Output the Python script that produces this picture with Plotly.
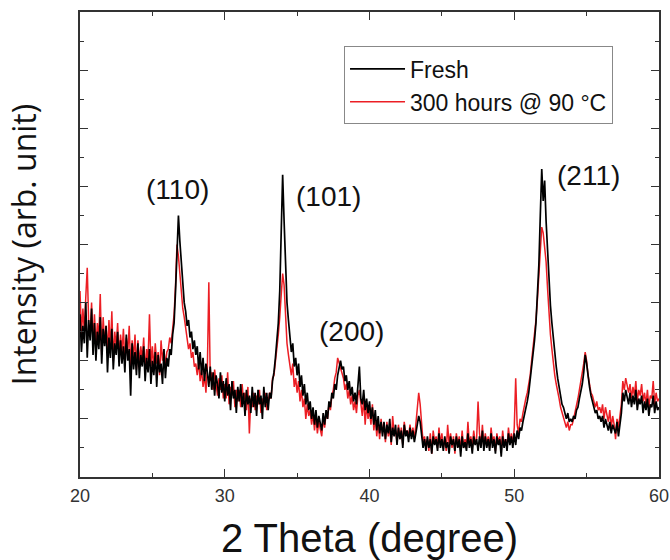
import plotly.graph_objects as go

# 2-theta grid (0.1 degree step, 20..60)
two_theta = [round(20 + 0.1 * i, 1) for i in range(401)]

fresh = [
    5.6, 4.3, 5.2, 4.6, 6.0, 4.1, 5.4, 4.7, 5.8, 4.2,   # 20
    5.3, 4.0, 5.0, 4.4, 5.5, 3.9, 5.1, 4.5, 5.2, 3.6,   # 21
    4.8, 4.1, 5.1, 3.7, 4.6, 4.2, 5.0, 3.8, 4.7, 3.9,   # 22
    4.5, 3.6, 4.9, 4.0, 4.4, 2.8, 4.6, 3.7, 4.3, 3.5,   # 23
    4.6, 3.4, 4.2, 3.8, 4.5, 3.3, 4.1, 3.6, 4.4, 3.2,   # 24
    4.0, 3.5, 4.3, 3.1, 4.2, 3.6, 3.9, 3.2, 4.4, 3.4,   # 25
    4.1, 3.8, 4.4, 4.2, 4.9, 5.3, 6.4, 7.7, 9.0, 8.1,   # 26
    7.3, 6.6, 6.0, 5.7, 5.2, 5.4, 4.8, 5.0, 4.4, 4.7,   # 27
    4.2, 4.5, 3.7, 4.3, 3.5, 4.1, 3.3, 3.9, 3.6, 3.1,   # 28
    3.8, 3.0, 3.6, 2.8, 3.5, 3.2, 2.7, 3.6, 2.9, 3.3,   # 29
    2.6, 3.4, 2.8, 3.2, 2.3, 3.3, 2.7, 3.0, 2.2, 3.1,   # 30
    2.6, 3.2, 2.4, 2.9, 2.1, 3.0, 2.5, 2.8, 2.2, 3.1,   # 31
    2.4, 2.9, 2.1, 3.0, 2.5, 2.8, 2.0, 3.1, 2.4, 2.9,   # 32
    2.3, 2.9, 2.7, 3.3, 3.6, 4.1, 4.6, 5.3, 6.4, 8.0,   # 33
    10.4, 8.8, 7.1, 6.0, 5.4, 4.8, 4.3, 4.6, 3.8, 4.1,  # 34
    3.5, 3.9, 3.1, 3.5, 2.8, 3.2, 2.5, 2.9, 2.3, 2.6,   # 35
    2.0, 2.4, 1.8, 2.3, 1.7, 2.1, 1.9, 1.6, 2.2, 1.8,   # 36
    2.3, 2.0, 2.6, 2.4, 2.9, 2.7, 3.2, 3.0, 3.5, 3.8,   # 37
    4.0, 3.7, 3.8, 3.3, 3.5, 3.0, 3.3, 2.8, 3.1, 2.6,   # 38
    2.9, 2.5, 3.1, 3.8, 2.7, 2.5, 3.0, 2.3, 2.7, 2.2,   # 39
    2.6, 2.0, 2.4, 1.8, 2.3, 1.6, 2.1, 1.5, 1.9, 1.4,   # 40
    1.9, 1.3, 1.8, 1.5, 2.0, 1.2, 1.7, 1.4, 1.8, 1.1,   # 41
    1.7, 1.3, 1.6, 1.0, 1.8, 1.4, 1.6, 1.2, 1.7, 1.3,   # 42
    1.6, 1.2, 1.5, 1.8, 2.1, 1.9, 1.4, 1.0, 1.3, 0.9,   # 43
    1.4, 1.0, 1.3, 0.8, 1.4, 1.1, 1.3, 0.9, 1.5, 1.0,   # 44
    1.3, 0.9, 1.4, 1.0, 1.2, 0.8, 1.4, 1.1, 1.3, 0.9,   # 45
    1.4, 1.0, 1.3, 0.7, 1.4, 1.0, 1.2, 0.9, 1.5, 1.0,   # 46
    1.3, 0.8, 1.4, 1.1, 1.3, 0.9, 1.4, 1.0, 1.6, 0.9,   # 47
    1.4, 1.0, 1.3, 0.9, 1.5, 1.0, 1.3, 0.8, 1.4, 1.1,   # 48
    1.3, 0.7, 1.4, 1.0, 1.3, 0.9, 1.5, 1.1, 1.4, 1.0,   # 49
    1.5, 1.1, 1.6, 1.3, 1.7, 1.6, 1.9, 2.1, 2.4, 2.6,   # 50
    2.9, 3.3, 3.7, 4.2, 4.7, 5.3, 6.2, 7.3, 9.0, 10.6,  # 51
    9.5, 10.2, 8.8, 7.8, 6.7, 5.9, 5.3, 4.7, 4.2, 3.8,  # 52
    3.4, 3.1, 2.8, 2.5, 2.4, 2.2, 2.0, 2.2, 1.9, 2.0,   # 53
    1.9, 2.1, 2.0, 2.3, 2.4, 2.7, 2.9, 3.2, 3.6, 4.2,   # 54
    3.9, 3.4, 3.1, 2.8, 2.6, 2.5, 2.2, 2.3, 2.0, 2.1,   # 55
    1.9, 2.1, 1.7, 2.0, 1.8, 1.6, 1.9, 1.5, 1.8, 1.6,   # 56
    1.5, 1.9, 1.4, 1.8, 2.2, 2.9, 2.6, 3.0, 2.7, 2.5,   # 57
    2.9, 2.4, 2.8, 2.5, 3.0, 2.3, 2.7, 2.5, 2.8, 2.2,   # 58
    2.6, 2.3, 2.7, 2.1, 2.5, 2.4, 2.8, 2.2, 2.6, 2.3,   # 59
    2.4,                                                # 60
]

aged = [
    6.4, 4.9, 5.8, 5.0, 6.2, 7.2, 5.3, 4.8, 6.0, 4.6,   # 20
    5.6, 4.5, 5.3, 4.8, 6.3, 4.2, 5.5, 4.6, 5.2, 4.3,   # 21
    5.4, 4.4, 5.7, 4.0, 5.0, 4.5, 5.3, 4.1, 4.9, 4.3,   # 22
    5.1, 3.9, 4.8, 4.3, 5.2, 3.8, 4.7, 4.1, 4.9, 3.7,   # 23
    4.7, 3.9, 4.5, 4.0, 4.8, 3.6, 4.4, 4.0, 5.6, 3.8,   # 24
    4.5, 3.7, 4.6, 3.9, 4.3, 3.5, 4.7, 4.0, 4.4, 3.8,   # 25
    4.3, 4.4, 4.8, 4.6, 5.1, 5.6, 6.6, 8.0, 7.6, 6.9,   # 26
    6.4, 5.8, 5.5, 5.1, 4.9, 4.4, 4.6, 4.1, 4.3, 3.8,   # 27
    3.9, 3.5, 4.0, 3.3, 3.7, 3.1, 3.5, 2.9, 3.8, 6.7,   # 28
    3.3, 3.6, 3.0, 3.7, 3.2, 2.8, 3.4, 3.0, 3.5, 2.7,   # 29
    3.2, 2.7, 3.6, 2.5, 3.1, 2.8, 3.3, 2.4, 3.0, 2.6,   # 30
    3.0, 2.4, 3.2, 2.6, 2.9, 2.3, 3.1, 1.5, 2.7, 2.4,   # 31
    2.9, 2.3, 2.8, 2.5, 3.0, 2.2, 2.7, 2.5, 2.9, 2.3,   # 32
    2.6, 2.9, 2.7, 3.4, 3.5, 3.9, 4.3, 4.9, 5.5, 6.2,   # 33
    7.0, 6.6, 5.5, 4.6, 4.2, 3.8, 3.5, 3.9, 3.1, 3.4,   # 34
    2.9, 3.3, 2.6, 3.0, 2.4, 2.7, 2.0, 2.5, 2.1, 2.3,   # 35
    1.8, 2.2, 1.6, 2.1, 1.5, 1.9, 1.7, 1.4, 2.0, 1.7,   # 36
    2.2, 2.0, 2.5, 2.3, 2.8, 3.0, 3.4, 3.6, 4.1, 3.9,   # 37
    3.7, 3.5, 3.4, 3.0, 3.2, 2.7, 3.0, 2.5, 2.8, 2.3,   # 38
    2.6, 2.2, 2.8, 3.0, 2.4, 2.1, 2.7, 1.8, 2.5, 2.0,   # 39
    2.3, 1.8, 2.5, 1.6, 2.1, 1.4, 1.9, 1.3, 2.0, 1.5,   # 40
    1.8, 1.2, 1.9, 1.4, 1.7, 1.1, 2.1, 1.5, 1.6, 1.2,   # 41
    1.8, 1.3, 1.7, 1.1, 1.9, 1.5, 1.6, 1.4, 1.8, 1.4,   # 42
    1.7, 1.3, 1.8, 2.4, 2.9, 2.5, 1.7, 1.2, 1.4, 1.0,   # 43
    1.3, 0.9, 1.5, 0.8, 1.6, 1.2, 1.4, 1.0, 1.7, 1.1,   # 44
    1.5, 1.0, 1.3, 0.9, 1.8, 1.1, 1.5, 1.0, 1.4, 0.8,   # 45
    1.5, 1.1, 1.4, 0.9, 1.6, 1.0, 1.3, 1.0, 1.9, 1.1,   # 46
    1.4, 1.0, 1.6, 1.2, 1.3, 2.6, 1.5, 1.1, 1.8, 1.0,   # 47
    1.5, 1.1, 1.4, 1.0, 1.7, 1.2, 1.4, 0.9, 1.5, 1.2,   # 48
    1.4, 0.9, 1.6, 1.1, 1.3, 1.0, 1.7, 1.2, 1.5, 1.1,   # 49
    1.7, 3.4, 1.8, 1.5, 2.0, 1.9, 2.2, 2.5, 2.7, 2.9,   # 50
    3.2, 3.5, 4.0, 4.4, 4.9, 5.4, 6.1, 6.9, 7.8, 8.6,   # 51
    8.4, 8.0, 7.4, 6.5, 5.6, 4.9, 4.4, 3.9, 3.5, 3.2,   # 52
    3.0, 2.7, 2.4, 2.2, 2.0, 1.8, 1.7, 1.9, 1.6, 1.8,   # 53
    1.8, 2.0, 2.2, 2.5, 2.7, 3.0, 3.3, 3.5, 3.9, 4.3,   # 54
    4.0, 3.5, 3.2, 2.9, 2.8, 2.6, 2.4, 2.6, 2.3, 2.4,   # 55
    2.2, 2.5, 2.0, 2.4, 2.1, 1.9, 2.3, 1.7, 2.1, 1.8,   # 56
    1.3, 2.0, 1.7, 2.1, 2.5, 3.3, 3.0, 3.4, 3.1, 2.9,   # 57
    3.2, 2.7, 3.1, 2.8, 3.3, 2.6, 3.0, 2.8, 3.2, 2.6,   # 58
    2.9, 2.5, 3.0, 2.4, 2.8, 2.7, 3.3, 2.5, 2.9, 2.6,   # 59
    2.7,                                                # 60
]

peak_labels = ["(110)", "(101)", "(200)", "(211)"]
peak_label_x = [26.76, 37.14, 38.73, 55.13]
peak_label_y = [9.9, 9.64, 5.0, 10.38]

series_names = ["Fresh", "300 hours @ 90 °C"]
series_colors = ["#000000", "#ec1e24"]

FONT = "Liberation Sans, Arial, sans-serif"
YFONT = "Open Sans, Noto Sans, sans-serif"

fig = go.Figure()
fig.add_trace(go.Scatter(
    x=two_theta, y=aged, mode="lines", name=series_names[1],
    line=dict(color=series_colors[1], width=1.5), legendrank=2,
))
fig.add_trace(go.Scatter(
    x=two_theta, y=fresh, mode="lines", name=series_names[0],
    line=dict(color=series_colors[0], width=1.7), legendrank=1,
))

for txt, xx, yy in zip(peak_labels, peak_label_x, peak_label_y):
    fig.add_annotation(x=xx, y=yy, text=txt, showarrow=False,
                       font=dict(family=FONT, size=28, color="#111"),
                       xanchor="center", yanchor="middle")

axis_common = dict(
    showline=True, linecolor="#333", linewidth=1.5, mirror="ticks",
    ticks="inside", tickcolor="#333", showgrid=False, zeroline=False,
    automargin=False,
)

fig.update_xaxes(
    range=[20, 60], dtick=10, tick0=20, ticklen=8, tickwidth=1.2,
    tickfont=dict(family=FONT, size=18, color="#333"), ticklabelstandoff=2,
    minor=dict(dtick=5, ticks="inside", ticklen=4, tickcolor="#333", tickwidth=1.2),
    title=dict(text="2 Theta (degree)", font=dict(family=FONT, size=40, color="#111"),
               standoff=20),
    **axis_common,
)
fig.update_yaxes(
    range=[0, 16], dtick=2, tick0=0, ticklen=8, tickwidth=1.2,
    showticklabels=False,
    minor=dict(dtick=1, ticks="inside", ticklen=4, tickcolor="#333", tickwidth=1.2),
    title=dict(text="Intensity (arb. unit)", font=dict(family=YFONT, size=32, color="#111"),
               standoff=32),
    **axis_common,
)

fig.update_layout(
    width=670, height=560,
    margin=dict(l=80, r=11, t=12, b=83),
    paper_bgcolor="white", plot_bgcolor="white",
    showlegend=True,
    legend=dict(x=0.456, y=0.926, xanchor="left", yanchor="top",
                bgcolor="white", bordercolor="#888", borderwidth=1,
                font=dict(family=FONT, size=23, color="#111"),
                tracegroupgap=0, itemwidth=55),
)

fig.write_html("out.html", config={"displayModeBar": False},
               post_script="document.body.style.margin='0';document.body.style.padding='0';")
